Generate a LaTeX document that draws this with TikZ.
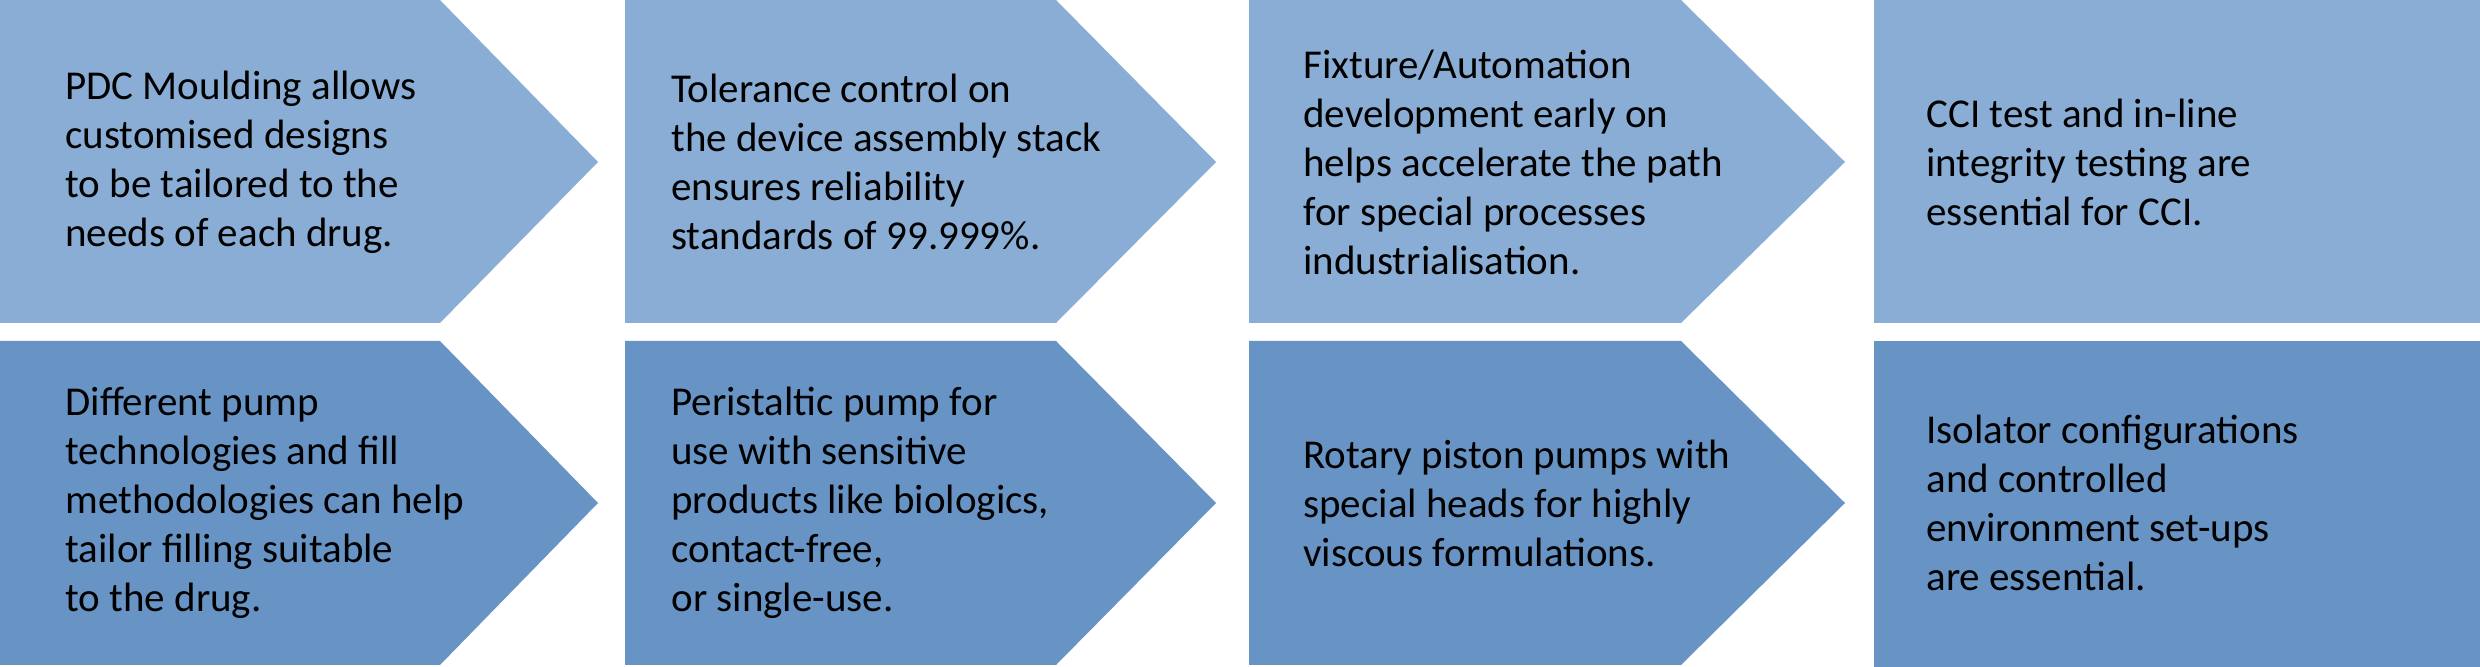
\documentclass[tikz,border=0pt]{standalone}
\usepackage{fontspec}
\setmainfont{Carlito}
\definecolor{toprow}{HTML}{89ADD4}
\definecolor{botrow}{HTML}{6794C5}
\tikzset{
  txt/.style={anchor=west, align=left, inner sep=0pt, text=black,
    font=\fontsize{20.5pt}{24.5pt}\selectfont},
}
\begin{document}
\begin{tikzpicture}[x=0.5pt,y=-0.5pt]
\useasboundingbox (0,0) rectangle (2480,667);
% top row
\fill[toprow] (-10,0) -- (440,0) -- (598,162) -- (440,323) -- (-10,323) -- cycle;
\fill[toprow] (625,0) -- (1056,0) -- (1216,162) -- (1056,323) -- (625,323) -- cycle;
\fill[toprow] (1249,0) -- (1681,0) -- (1845,162) -- (1681,323) -- (1249,323) -- cycle;
\fill[toprow] (1874,0) rectangle (2490,323);
% bottom row
\fill[botrow] (-10,341) -- (440,341) -- (598,503) -- (440,665) -- (-10,665) -- cycle;
\fill[botrow] (625,341) -- (1056,341) -- (1216,503) -- (1056,665) -- (625,665) -- cycle;
\fill[botrow] (1249,341) -- (1681,341) -- (1845,503) -- (1681,665) -- (1249,665) -- cycle;
\fill[botrow] (1874,341) rectangle (2490,680);
% texts
\node[txt] (t1) at (65,162) {PDC Moulding allows\\customised designs\\to be tailored to the\\needs of each drug.};
\node[txt] (t2) at (671,162) {Tolerance control on\\the device assembly stack\\ensures reliability\\standards of 99.999\%.};
\node[txt] (t3) at (1303,162) {Fixture/Automation\\development early on\\helps accelerate the path\\for special processes\\industrialisation.};
\node[txt] (t4) at (1926,162) {CCI test and in-line\\integrity testing are\\essential for CCI.};
\node[txt] (b1) at (65,503) {Different pump\\technologies and fill\\methodologies can help\\tailor filling suitable\\to the drug.};
\node[txt] (b2) at (671,503) {Peristaltic pump for\\use with sensitive\\products like biologics,\\contact-free,\\or single-use.};
\node[txt] (b3) at (1303,503) {Rotary piston pumps with\\special heads for highly\\viscous formulations.};
\node[txt] (b4) at (1926,503) {Isolator configurations\\and controlled\\environment set-ups\\are essential.};
\end{tikzpicture}
\end{document}
